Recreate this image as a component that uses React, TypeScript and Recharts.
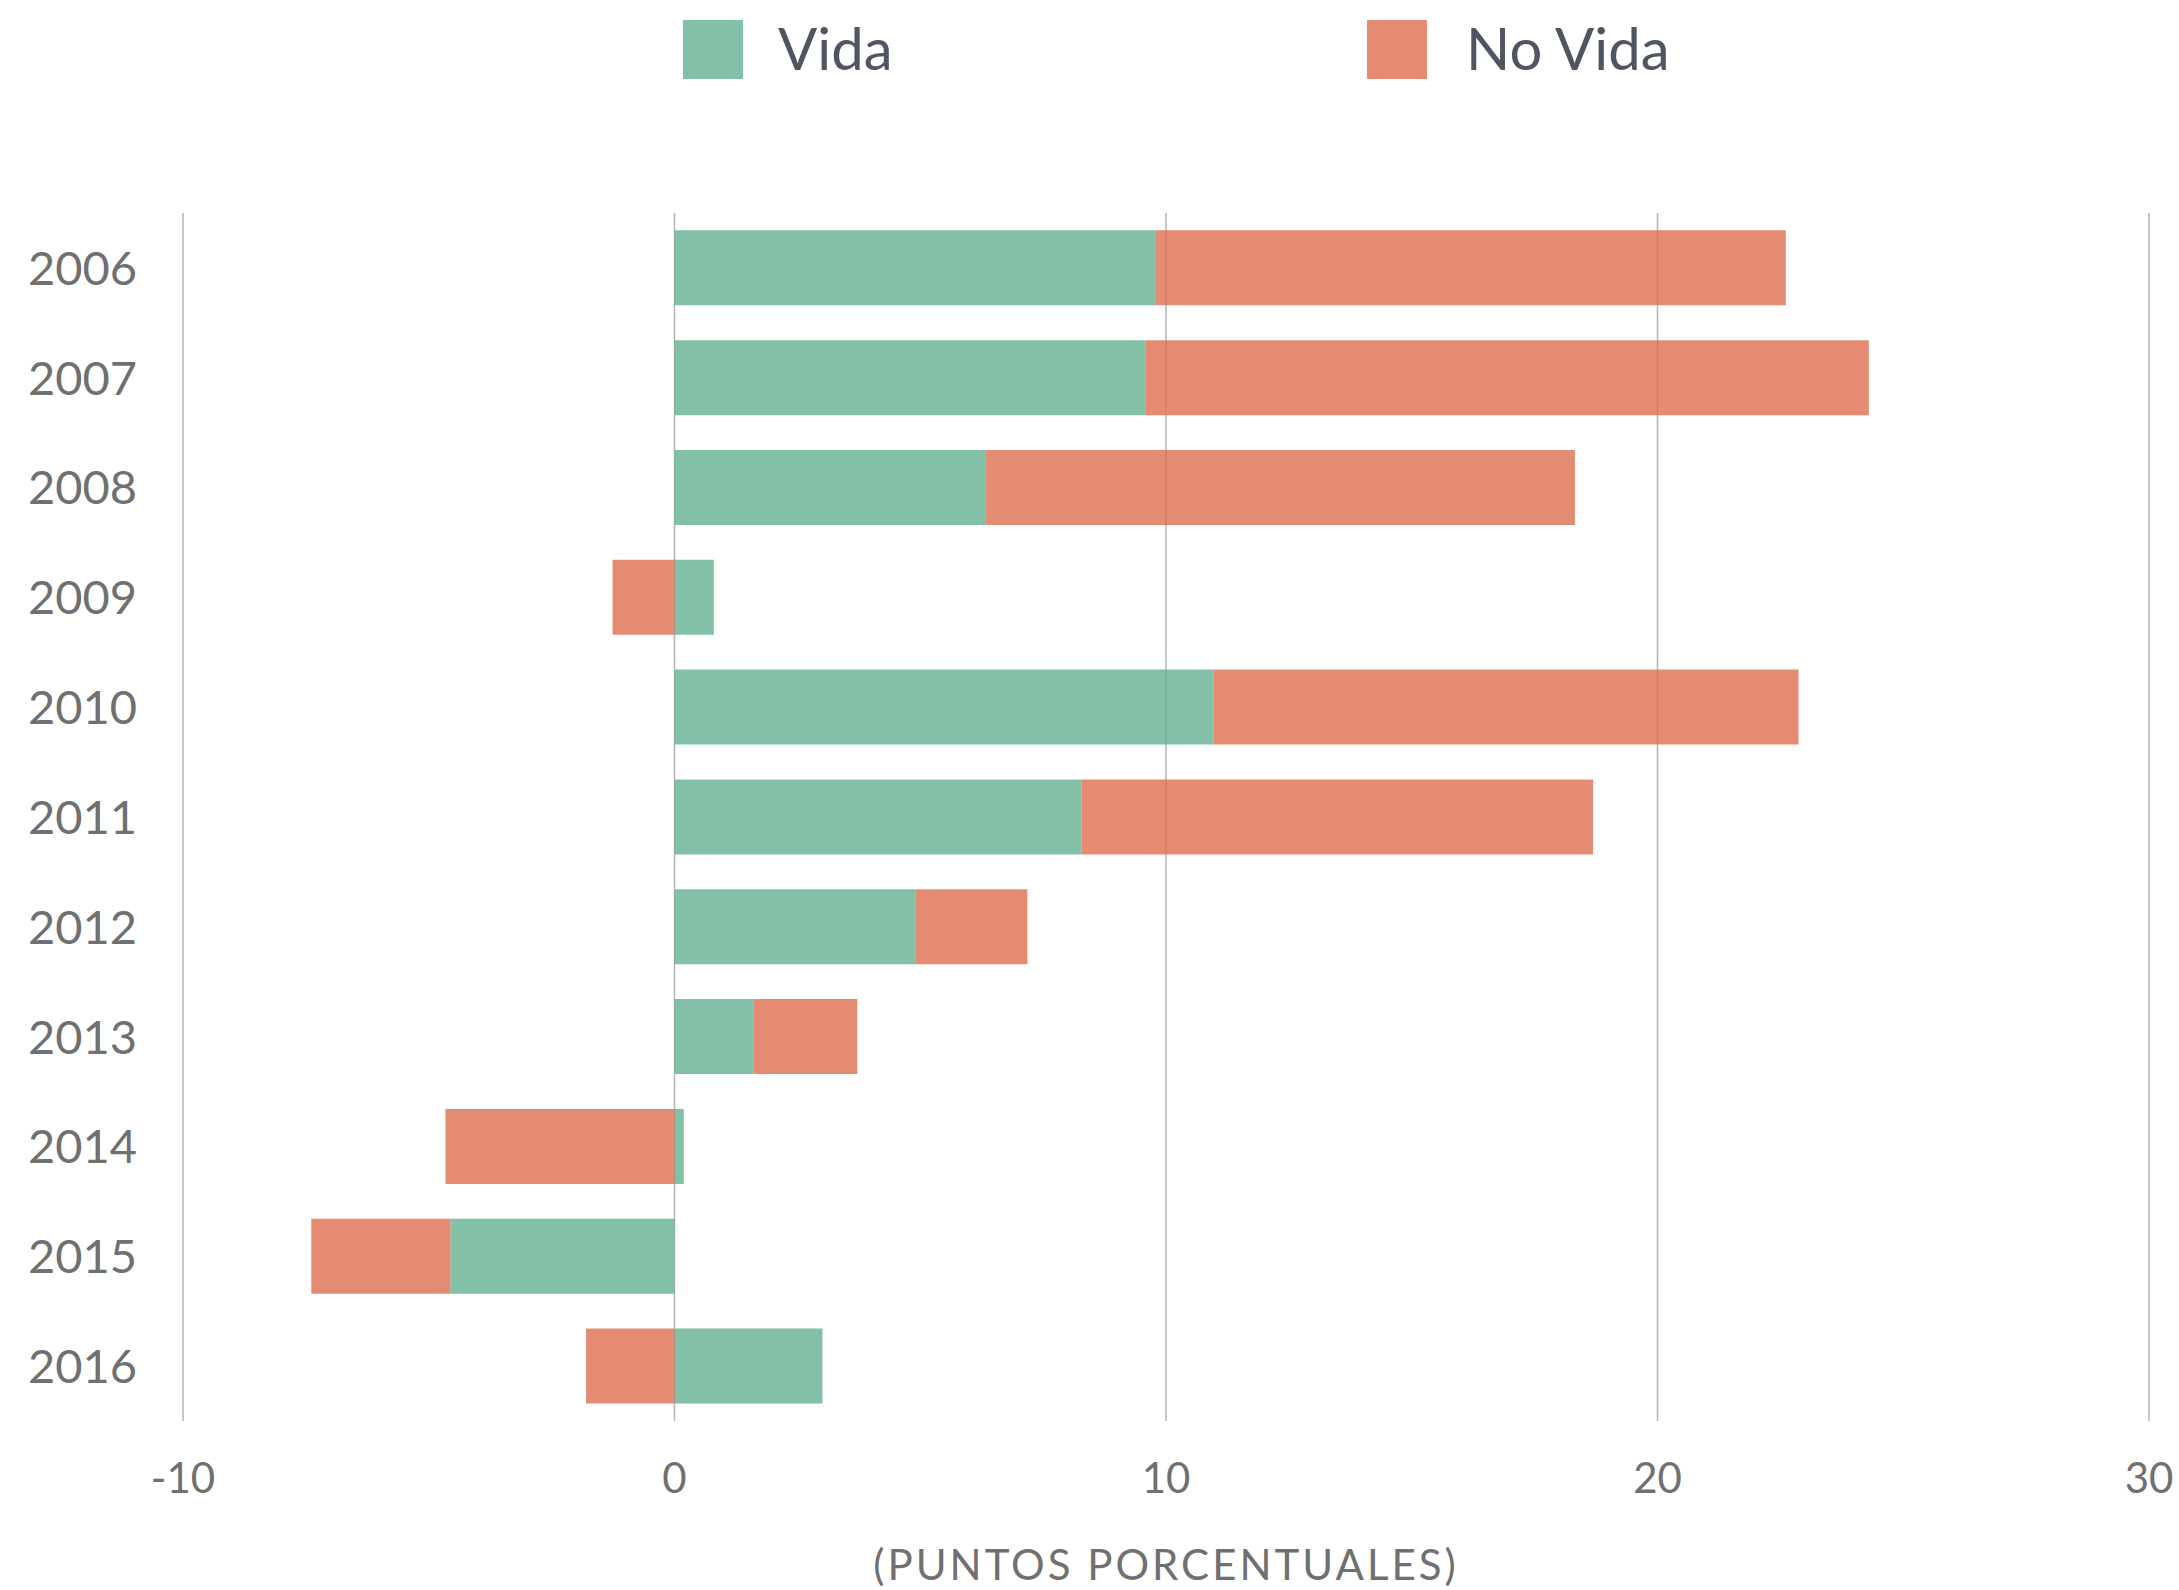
import React from 'react';
import { BarChart, Bar, XAxis, YAxis, CartesianGrid, Legend, Label } from 'recharts';

const years = ['2006', '2007', '2008', '2009', '2010', '2011', '2012', '2013', '2014', '2015', '2016'];
const vida = [9.78, 9.58, 6.34, 0.8, 10.97, 8.28, 4.9, 1.61, 0.19, -4.56, 3.01];
const noVida = [12.83, 14.72, 11.98, -1.26, 11.9, 10.41, 2.28, 2.11, -4.66, -2.83, -1.8];
const xTicks = [-10, 0, 10, 20, 30];

const data = years.map((y, i) => ({ year: y, vida: vida[i], noVida: noVida[i] }));

const GREEN = '#63B191';
const ORANGE = '#DD6E4F';
const FONT = 'Lato, "Open Sans", sans-serif';

const YTick = (props: any) => {
  const { y, payload } = props;
  return (
    <text x={28} y={y} dy="0.36em" textAnchor="start" fill="#707070" fontSize={47} fontFamily={FONT}>
      {payload.value}
    </text>
  );
};

const XTick = (props: any) => {
  const { x, y, payload } = props;
  return (
    <text x={x} y={y} dy={72} textAnchor="middle" fill="#707070" fontSize={42} fontFamily={FONT}>
      {payload.value}
    </text>
  );
};

const LegendContent = () => (
  <div style={{ position: 'relative', width: 2179, height: 100, fontFamily: FONT }}>
    <div style={{ position: 'absolute', left: 683, top: 20, width: 60, height: 59, background: GREEN, opacity: 0.8 }} />
    <div style={{ position: 'absolute', left: 778, top: 8, fontSize: 58, lineHeight: '80px', color: '#4F5562' }}>Vida</div>
    <div style={{ position: 'absolute', left: 1367, top: 20, width: 60, height: 59, background: ORANGE, opacity: 0.8 }} />
    <div style={{ position: 'absolute', left: 1466, top: 8, fontSize: 58, lineHeight: '80px', color: '#4F5562' }}>No Vida</div>
  </div>
);

export default function App() {
  return (
    <div style={{ position: 'absolute', left: 0, top: 0, width: 2179, height: 1590, background: '#fff' }}>
      <BarChart
        width={2179}
        height={1590}
        data={data}
        layout="vertical"
        stackOffset="sign"
        barCategoryGap="15.8%"
        margin={{ top: 113, right: 30, bottom: 0, left: 0 }}
      >
        <CartesianGrid horizontal={false} vertical={true} stroke="#B5B5B5" strokeWidth={1.5} />
        <XAxis
          type="number"
          domain={[-10, 30]}
          ticks={xTicks}
          axisLine={false}
          tickLine={false}
          tickSize={0}
          tickMargin={0}
          height={169}
          tick={<XTick />}
          interval={0}
        >
          <Label
            value="(PUNTOS PORCENTUALES)"
            position="insideBottom"
            offset={10}
            fill="#707070"
            fontSize={42}
            fontFamily={FONT}
            style={{ letterSpacing: '3px' }}
          />
        </XAxis>
        <YAxis
          type="category"
          dataKey="year"
          width={183}
          axisLine={false}
          tickLine={false}
          tick={<YTick />}
          interval={0}
        />
        <Legend verticalAlign="top" align="left" wrapperStyle={{ top: 0, left: 0 }} content={<LegendContent />} />
        <Bar dataKey="vida" name="Vida" stackId="a" fill={GREEN} fillOpacity={0.8} isAnimationActive={false} />
        <Bar dataKey="noVida" name="No Vida" stackId="a" fill={ORANGE} fillOpacity={0.8} isAnimationActive={false} />
      </BarChart>
    </div>
  );
}
